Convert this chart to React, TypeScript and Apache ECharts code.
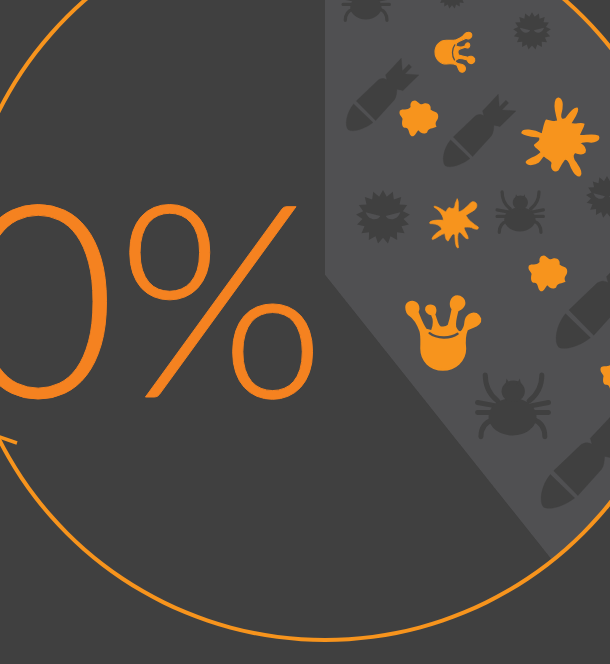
import React, { useEffect, useRef } from "react";
import * as echarts from "echarts";

const sliceNames = ["Highlighted", "Remainder"];
const sliceValues = [39.3, 60.7];
const headline = "60%";

const BG = "#404040";
const SLICE = "#505052";
const ORANGE = "#f7941d";
const TEXT_ORANGE = "#f58220";

const starPath = (spikes: number, outer: number, inner: number) => {
  let d = "";
  for (let i = 0; i < spikes * 2; i++) {
    const r = i % 2 === 0 ? outer : inner;
    const a = (Math.PI * i) / spikes - Math.PI / 2;
    d += `${i === 0 ? "M" : "L"}${(r * Math.cos(a)).toFixed(1)},${(r * Math.sin(a)).toFixed(1)} `;
  }
  return d + "Z";
};

const shapes: Record<string, string> = {
  bomb: "M102,312 L160,368 C135,388 100,398 86,390 C74,378 80,338 102,312 Z M110,303 L176,240 C188,233 196,236 202,240 L198,225 L245,175 L248,213 L268,193 L276,201 L256,222 L298,225 L250,272 L232,268 C231,280 231,290 224,300 L168,362 Z",
  spiderLegs: "M258,257 C258,290 270,315 295,335 M428,257 C428,290 415,315 390,335 M235,340 L290,350 M235,370 L285,370 M448,340 L395,350 M448,370 L395,370 M245,443 C245,420 255,400 280,392 M437,443 C437,420 428,400 405,392",
  spiderHorns: "M322,268 L332,285 L318,290 Z M362,268 L366,290 L352,285 Z",
  virus: starPath(17, 81, 62),
  virusEyes: "M-52,-14 L-8,-3 C-14,10 -42,14 -52,-14 Z M52,-14 L8,-3 C14,10 42,14 52,-14 Z",
  splatA: "M716,296 C730,300 728,325 722,345 C720,360 728,362 738,358 C750,345 758,325 772,326 C778,335 762,355 752,372 C765,378 780,370 792,374 C790,385 780,398 778,408 C790,412 815,403 835,410 C842,420 825,430 805,426 C790,425 780,428 780,432 C790,438 800,445 795,458 C785,468 775,460 765,458 C755,468 758,478 768,490 C775,500 790,520 780,528 C768,532 755,505 750,490 C745,480 738,475 733,480 C725,490 720,500 715,510 C705,518 692,510 698,490 C695,480 685,480 675,470 C668,465 665,480 655,488 C645,495 625,498 620,488 C625,478 650,475 665,458 C660,450 650,445 645,437 C655,428 665,425 660,412 C645,410 620,410 607,400 C608,388 640,390 668,405 C672,385 675,370 680,362 C695,365 705,372 715,365 C712,345 700,320 710,300 Z",
  splatB: "M352,85 C358,95 354,110 356,125 C368,122 380,110 395,95 C408,90 418,105 405,118 C395,125 385,130 378,135 C385,150 400,160 415,170 C418,180 405,178 395,172 C385,170 378,170 372,172 C375,185 385,195 385,205 C378,208 370,195 360,185 C352,185 352,205 356,232 C350,236 346,225 345,195 C340,185 335,195 325,212 C318,212 316,200 315,190 C305,190 290,205 278,208 C272,205 285,190 305,178 C305,170 295,160 270,160 C265,152 285,148 310,150 C312,140 300,120 282,110 C282,104 295,110 318,125 C322,118 325,110 330,112 C338,118 345,115 346,100 Z",
  blob: "M285,303 C295,305 300,320 312,312 C325,308 335,318 332,330 C340,338 355,335 355,350 C355,365 342,365 350,382 C340,388 325,385 322,398 C312,408 300,398 295,392 C288,400 285,412 275,410 C265,405 270,388 258,385 C245,385 245,370 248,358 C245,350 235,345 240,333 C248,325 262,335 272,322 C270,312 275,303 285,303 Z",
  crown: "M198,410 C198,397 212,392 220,394 C235,398 238,415 232,425 C240,445 248,468 258,478 L275,482 C284,460 282,445 275,432 C262,430 255,420 258,412 C262,403 278,402 284,412 C288,420 284,428 282,432 C288,445 290,465 300,470 C310,472 320,470 325,465 C332,445 335,425 337,415 C328,405 330,385 345,378 C360,374 375,385 372,402 C368,415 355,418 352,420 C348,435 342,455 345,470 C350,480 355,488 362,485 C372,478 375,465 376,452 C378,435 395,425 408,430 C422,438 424,450 415,460 C405,470 390,470 380,478 C375,490 372,510 375,535 C375,570 345,598 308,598 C270,598 243,570 243,535 C243,515 245,495 240,480 C232,460 225,445 210,435 C200,428 198,420 198,410 Z",
  crownGap: "M268,488 C290,505 330,505 352,490",
};

Object.keys(shapes).forEach((k) => {
  echarts.graphic.registerShape(k, echarts.graphic.extendPath(shapes[k], {}));
});

const place = (x: number, y: number, s: number, rot: number, ox: number, oy: number, parts: any[]) => ({
  type: "group",
  x,
  y,
  scaleX: s,
  scaleY: s,
  rotation: rot,
  z: 10,
  children: parts.map((p) => ({ ...p, x: -ox, y: -oy, z: 10 })),
});

const fill = (type: string, color: string, thicken = 0) => ({
  type,
  style: { fill: color, stroke: thicken ? color : "none", lineWidth: thicken, lineJoin: "round" },
});
const line = (type: string, color: string, w: number) => ({
  type,
  style: { fill: "none", stroke: color, lineWidth: w, lineCap: "round" },
});
const ell = (cx: number, cy: number, rx: number, ry: number, color: string) => ({
  type: "ellipse",
  shape: { cx, cy, rx, ry },
  style: { fill: color },
});

const bomb = (x: number, y: number, s: number) => place(x, y, s / 3, 0, 82, 390, [fill("bomb", BG, 1)]);
const spider = (x: number, y: number, s: number) =>
  place(x, y, s / 3, 0, 341, 350, [
    line("spiderLegs", BG, 15),
    ell(340, 383, 72, 56, BG),
    ell(342, 306, 35, 32, BG),
    fill("spiderHorns", BG),
  ]);
const virus = (x: number, y: number, s: number) =>
  place(x, y, s / 3, 0, 0, 0, [fill("virus", BG), fill("virusEyes", SLICE)]);
const blob = (x: number, y: number, s: number) => place(x, y, s / 3, 0, 297, 355, [fill("blob", ORANGE)]);
const crown = (x: number, y: number, s: number, rot: number) =>
  place(x, y, s / 3, rot, 308, 487, [fill("crown", ORANGE, 6), line("crownGap", SLICE, 7)]);

const icons = [
  bomb(347, 130, 1),
  bomb(444, 166, 1),
  bomb(557, 347, 1.28),
  bomb(542, 507, 1.25),
  spider(513, 406, 1),
  spider(520, 212, 0.65),
  spider(366, 0, 0.65),
  virus(383, 217, 1),
  virus(532, 31, 0.7),
  virus(452, -6, 0.55),
  virus(607, 197, 0.78),
  place(560, 138, 1 / 3, 0, 720, 415, [ell(718, 418, 55, 55, ORANGE), fill("splatA", ORANGE, 5)]),
  place(455, 222, 1 / 3, 0, 345, 155, [ell(345, 155, 32, 32, ORANGE), fill("splatB", ORANGE, 2)]),
  blob(419, 118, 1),
  blob(548, 273, 1),
  blob(620, 375, 1),
  crown(443, 333, 1, 0),
  crown(455, 52, 0.54, -Math.PI / 2),
];

export default function App() {
  const ref = useRef<HTMLDivElement>(null);
  useEffect(() => {
    document.body.style.margin = "0";
    document.body.style.background = BG;
    const chart = echarts.init(ref.current!, undefined, { renderer: "svg" });
    chart.setOption({
      animation: false,
      backgroundColor: BG,
      series: [
        {
          type: "pie",
          center: [325, 275],
          radius: [0, 364],
          startAngle: 90,
          clockwise: true,
          silent: true,
          label: { show: false },
          labelLine: { show: false },
          data: sliceNames.map((name, i) => ({
            name,
            value: sliceValues[i],
            itemStyle: { color: i === 0 ? SLICE : BG },
          })),
        },
        {
          type: "pie",
          center: [325, 275],
          radius: [363, 367],
          silent: true,
          label: { show: false },
          labelLine: { show: false },
          data: [{ name: "Ring", value: 100, itemStyle: { color: ORANGE } }],
        },
      ],
      graphic: {
        elements: [
          ...icons,
          {
            type: "text",
            z: 11,
            x: 326,
            y: 427,
            style: {
              text: headline,
              fill: TEXT_ORANGE,
              stroke: TEXT_ORANGE,
              lineWidth: 1,
              font: '300 269px Lato, "Open Sans", sans-serif',
              align: "right",
              verticalAlign: "bottom",
            },
          },
          {
            type: "line",
            z: 11,
            shape: { x1: -6, y1: 435, x2: 17, y2: 443 },
            style: { stroke: ORANGE, lineWidth: 3.5 },
          },
        ],
      },
    });
    return () => chart.dispose();
  }, []);
  return <div ref={ref} style={{ width: 610, height: 664 }} />;
}
